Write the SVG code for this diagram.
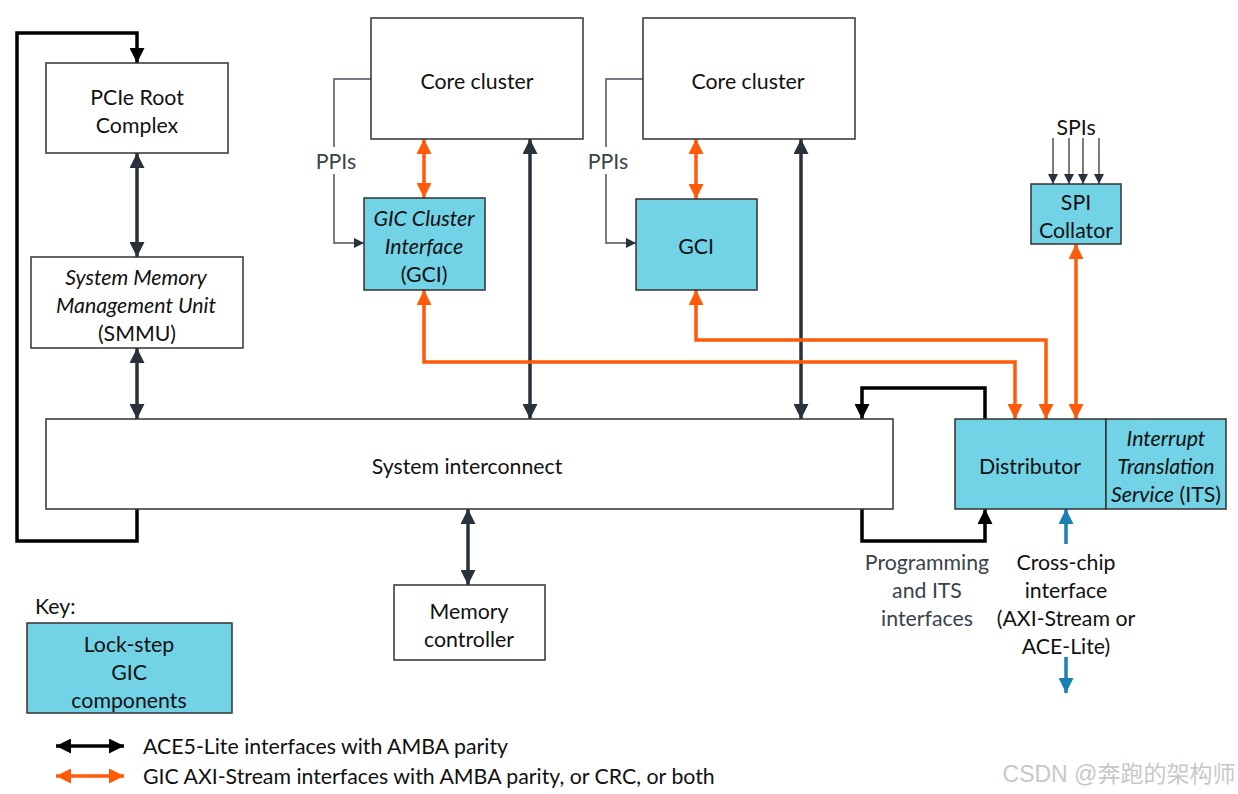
<svg xmlns="http://www.w3.org/2000/svg" width="1238" height="794" viewBox="0 0 1238 794">
<style>
text{font-family:Lato,"Liberation Sans","Noto Sans CJK SC",sans-serif;font-size:21.3px;fill:#111;text-anchor:middle}
.it{font-style:italic}
.box{fill:#fff;stroke:#333;stroke-width:1.5}
.cy{fill:#72d2e6;stroke:#333;stroke-width:1.5}
.dk{fill:none;stroke:#29313a;stroke-width:3.5}
.bk{fill:none;stroke:#000;stroke-width:3.5}
.or{fill:none;stroke:#fe5a0a;stroke-width:3.5}
.bl{fill:none;stroke:#1a80b2;stroke-width:3.5}
.thin{fill:none;stroke:#4a525a;stroke-width:1.5}
.gray{fill:#3a424c}
</style>
<defs>
<marker id="aDk" markerUnits="userSpaceOnUse" markerWidth="15" markerHeight="15" refX="15" refY="7.5" orient="auto-start-reverse"><path d="M0,0 L15,7.5 L0,15 z" fill="#29313a"/></marker>
<marker id="aBk" markerUnits="userSpaceOnUse" markerWidth="15" markerHeight="15" refX="15" refY="7.5" orient="auto-start-reverse"><path d="M0,0 L15,7.5 L0,15 z" fill="#000"/></marker>
<marker id="aOr" markerUnits="userSpaceOnUse" markerWidth="15" markerHeight="15" refX="15" refY="7.5" orient="auto-start-reverse"><path d="M0,0 L15,7.5 L0,15 z" fill="#fe5a0a"/></marker>
<marker id="aBl" markerUnits="userSpaceOnUse" markerWidth="15" markerHeight="15" refX="15" refY="7.5" orient="auto-start-reverse"><path d="M0,0 L15,7.5 L0,15 z" fill="#1a80b2"/></marker>
<marker id="aTh" markerUnits="userSpaceOnUse" markerWidth="10" markerHeight="10" refX="10" refY="5" orient="auto"><path d="M0,0 L10,5 L0,10 z" fill="#29313a"/></marker>
</defs>
<rect width="1238" height="794" fill="#fff"/>

<g id="connectors">
<path class="bk" d="M137,509 V541 H17 V33 H137 V63" marker-end="url(#aBk)"/>
<path class="dk" d="M137,153 V257" marker-start="url(#aDk)" marker-end="url(#aDk)"/>
<path class="dk" d="M137,348 V419" marker-start="url(#aDk)" marker-end="url(#aDk)"/>
<path class="dk" d="M530,139 V419" marker-start="url(#aDk)" marker-end="url(#aDk)"/>
<path class="dk" d="M801,139 V419" marker-start="url(#aDk)" marker-end="url(#aDk)"/>
<path class="dk" d="M468,509 V585" marker-start="url(#aDk)" marker-end="url(#aDk)"/>
<path class="or" d="M424,139 V198" marker-start="url(#aOr)" marker-end="url(#aOr)"/>
<path class="or" d="M696,139 V199" marker-start="url(#aOr)" marker-end="url(#aOr)"/>
<path class="or" d="M424,290 V362 H1015 V419" marker-start="url(#aOr)" marker-end="url(#aOr)"/>
<path class="or" d="M696,290 V340 H1046 V419" marker-start="url(#aOr)" marker-end="url(#aOr)"/>
<path class="or" d="M1076,244 V419" marker-start="url(#aOr)" marker-end="url(#aOr)"/>
<path class="bk" d="M985,419 V388 H862 V419" marker-end="url(#aBk)"/>
<path class="bk" d="M862,509 V541 H985 V509" marker-end="url(#aBk)"/>
<path class="bl" d="M1066,544 V509" marker-end="url(#aBl)"/>
<path class="bl" d="M1066,657 V693" marker-end="url(#aBl)"/>
<path class="thin" d="M371,79 H334 V147"/>
<path class="thin" d="M334,174 V243 H364" marker-end="url(#aTh)"/>
<path class="thin" d="M643,79 H606 V147"/>
<path class="thin" d="M606,174 V243 H636" marker-end="url(#aTh)"/>
<path class="thin" d="M1053,138 V184" marker-end="url(#aTh)"/>
<path class="thin" d="M1069,138 V184" marker-end="url(#aTh)"/>
<path class="thin" d="M1083,138 V184" marker-end="url(#aTh)"/>
<path class="thin" d="M1099,138 V184" marker-end="url(#aTh)"/>
<path class="bk" d="M56,746 H124" marker-start="url(#aBk)" marker-end="url(#aBk)"/>
<path class="or" d="M56,776 H124" marker-start="url(#aOr)" marker-end="url(#aOr)"/>
</g>

<g id="pcie"><rect class="box" x="46" y="63" width="182" height="90"/><text x="137" y="105">PCIe Root</text><text x="137" y="133">Complex</text></g>
<g id="smmu"><rect class="box" x="31" y="257" width="212" height="91"/><text class="it" x="136" y="285">System Memory</text><text class="it" x="136" y="313">Management Unit</text><text x="137" y="341">(SMMU)</text></g>
<g id="core1"><rect class="box" x="371" y="18" width="212" height="121"/><text x="477" y="89">Core cluster</text></g>
<g id="core2"><rect class="box" x="643" y="18" width="212" height="121"/><text x="748" y="89">Core cluster</text></g>
<g id="gci1"><rect class="cy" x="364" y="198" width="121" height="92"/><text class="it" x="424" y="226">GIC Cluster</text><text class="it" x="424" y="254">Interface</text><text x="424" y="282">(GCI)</text></g>
<g id="gci2"><rect class="cy" x="636" y="199" width="121" height="91"/><text x="696" y="254">GCI</text></g>
<g id="ppis1"><text class="gray" x="336" y="169">PPIs</text></g>
<g id="ppis2"><text class="gray" x="608" y="169">PPIs</text></g>
<g id="spis"><text x="1076" y="135">SPIs</text></g>
<g id="spicollator"><rect class="cy" x="1031" y="184" width="90" height="60"/><text x="1076" y="210">SPI</text><text x="1076" y="238">Collator</text></g>
<g id="interconnect"><rect class="box" x="46" y="419" width="847" height="90"/><text x="467" y="474">System interconnect</text></g>
<g id="distributor"><rect class="cy" x="955" y="419" width="151" height="90"/><text x="1030" y="474">Distributor</text></g>
<g id="its"><rect class="cy" x="1106" y="419" width="120" height="90"/><text class="it" x="1166" y="446">Interrupt</text><text class="it" x="1166" y="474">Translation</text><text x="1166" y="502"><tspan class="it">Service</tspan> (ITS)</text></g>
<g id="memctrl"><rect class="box" x="394" y="585" width="151" height="75"/><text x="469" y="619">Memory</text><text x="469" y="647">controller</text></g>
<g id="proglabel"><text class="gray" x="927" y="570">Programming</text><text class="gray" x="927" y="598">and ITS</text><text class="gray" x="927" y="626">interfaces</text></g>
<g id="crosschip"><text x="1066" y="570">Cross-chip</text><text x="1066" y="598">interface</text><text x="1066" y="626">(AXI-Stream or</text><text x="1066" y="654">ACE-Lite)</text></g>
<g id="key"><text x="35" y="614" style="text-anchor:start">Key:</text><rect class="cy" x="27" y="623" width="205" height="90"/><text x="129" y="652">Lock-step</text><text x="129" y="680">GIC</text><text x="129" y="708">components</text></g>
<g id="legend"><text x="143" y="754" style="text-anchor:start">ACE5-Lite interfaces with AMBA parity</text><text x="143" y="784" style="text-anchor:start">GIC AXI-Stream interfaces with AMBA parity, or CRC, or both</text></g>
<g id="watermark"><text x="1119" y="782" style="fill:#c8c8c8;font-size:23px;font-family:'Liberation Sans','Noto Sans CJK SC',sans-serif">CSDN @奔跑的架构师</text></g>
</svg>
